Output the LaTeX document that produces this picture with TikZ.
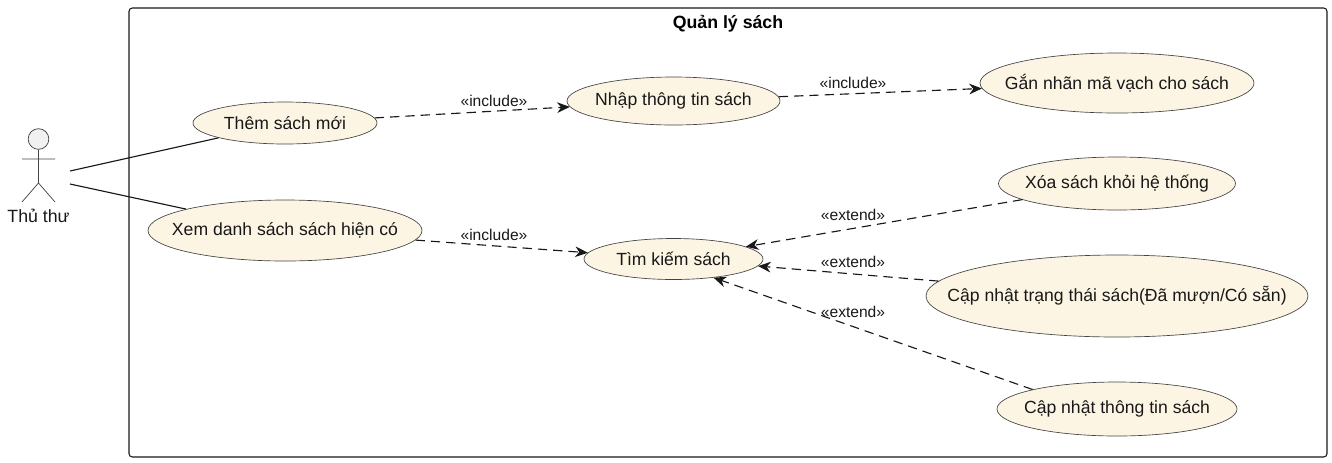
\documentclass[tikz,border=0pt]{standalone}
\usepackage{fontspec}
\setmainfont{Liberation Sans}
\usetikzlibrary{arrows.meta,shapes.geometric}
\definecolor{Ink}{HTML}{181818}
\definecolor{Edge}{HTML}{444444}
\definecolor{Cream}{HTML}{FDF5E3}
\definecolor{HeadGrey}{HTML}{F1F1F1}
\newcommand{\uctext}[1]{\makebox[0pt]{#1}}

\begin{document}
\begin{tikzpicture}[x=0.75pt,y=-0.75pt,>={Stealth[length=9.5pt,width=8pt,inset=3pt]},
  usecase/.style={ellipse,draw=Edge,line width=0.5pt,fill=Cream,text=Ink,inner sep=0pt,font=\fontsize{13.2pt}{16pt}\selectfont},
  actorline/.style={draw=Edge,line width=0.55pt},
  assoc/.style={draw=Ink,line width=0.85pt},
  dep/.style={->,draw=Ink,line width=0.85pt,dash pattern=on 7pt off 4.5pt},
  deplabel/.style={text=Ink,inner sep=0pt,font=\fontsize{11.7pt}{14pt}\selectfont}]
  \useasboundingbox (0,0) rectangle (1332,462);
  \node[draw=Ink,line width=0.8pt,rounded corners=2.5pt,minimum width=898.5pt,minimum height=336.75pt,inner sep=0pt] (frame) at (728,232.5) {};
  \node[inner sep=0pt,text=black,font=\fontsize{13.3pt}{16pt}\selectfont\bfseries] (title) at (728,23.5) {Quản lý sách};
  % actor
  \node[circle,draw=Edge,line width=0.55pt,fill=HeadGrey,minimum size=15.5pt,inner sep=0pt] (head) at (38.5,139) {};
  \coordinate (hip) at (38.5,183);
  \coordinate (armL) at (22,159);
  \coordinate (armR) at (55,159);
  \coordinate (footL) at (22,202);
  \coordinate (footR) at (55,202);
  \draw[actorline] (head.south) -- (hip) -- (footL) (hip) -- (footR) (armL) -- (armR);
  \node[inner sep=0pt,text=Ink,font=\fontsize{13.3pt}{16pt}\selectfont] (thuthu) at (38.5,216) {Thủ thư};
  \coordinate (actorA) at (70,171);
  \coordinate (actorB) at (70,184);
  % use cases
  \node[usecase,minimum width=138pt,minimum height=31.5pt] (them) at (285,123) {\uctext{Thêm sách mới}};
  \node[usecase,minimum width=205.5pt,minimum height=45.75pt] (xem) at (285,230.5) {\uctext{Xem danh sách sách hiện có}};
  \node[usecase,minimum width=159.75pt,minimum height=36pt] (nhap) at (673.5,101) {\uctext{Nhập thông tin sách}};
  \node[usecase,minimum width=134.25pt,minimum height=30.75pt] (timkiem) at (673.5,259) {\uctext{Tìm kiếm sách}};
  \node[usecase,minimum width=205.5pt,minimum height=45pt] (gan) at (1117,83) {\uctext{Gắn nhãn mã vạch cho sách}};
  \node[usecase,minimum width=177.75pt,minimum height=39.75pt] (xoa) at (1117,183.5) {\uctext{Xóa sách khỏi hệ thống}};
  \node[usecase,minimum width=286.5pt,minimum height=61.5pt] (trangthai) at (1117,296) {\uctext{Cập nhật trạng thái sách(Đã mượn/Có sẵn)}};
  \node[usecase,minimum width=180pt,minimum height=40.5pt] (capnhat) at (1117,409) {\uctext{Cập nhật thông tin sách}};
  % connectors
  \draw[assoc] (actorA) -- (them);
  \draw[assoc] (actorB) -- (xem);
  \draw[dep] (them) -- (nhap);
  \draw[dep] (nhap) -- (gan);
  \draw[dep] (xem) -- (timkiem);
  \draw[dep] (xoa) -- (timkiem);
  \draw[dep] (trangthai) -- (timkiem);
  \draw[dep] (capnhat.167) -- (timkiem.335);
  \node[deplabel] (inc1) at (494,100.5) {«include»};
  \node[deplabel] (inc2) at (853,82.5) {«include»};
  \node[deplabel] (inc3) at (494,234.5) {«include»};
  \node[deplabel] (ext1) at (853,214.5) {«extend»};
  \node[deplabel] (ext2) at (853,261.5) {«extend»};
  \node[deplabel] (ext3) at (853,311.5) {«extend»};
\end{tikzpicture}
\end{document}
